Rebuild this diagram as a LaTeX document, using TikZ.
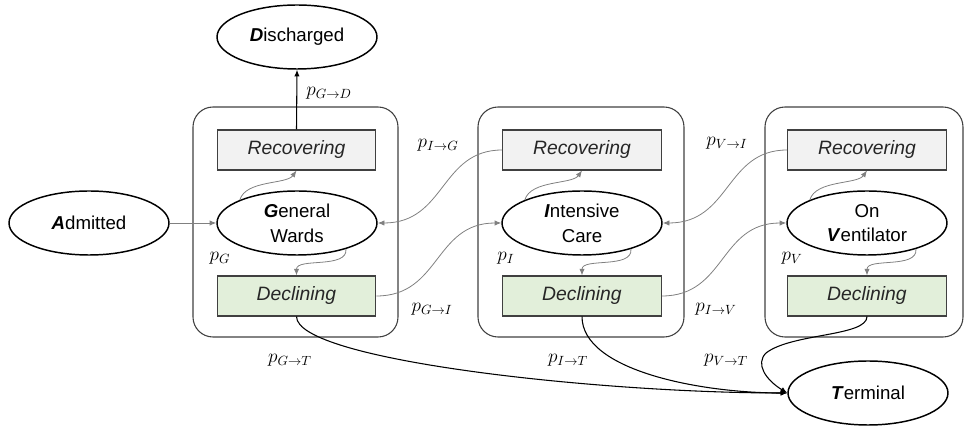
\documentclass[tikz,border=0pt]{standalone}
\usepackage{fontspec}
\setmainfont{Liberation Sans}
\usetikzlibrary{shapes.geometric,arrows.meta}
\definecolor{recfill}{HTML}{F2F2F2}
\definecolor{decfill}{HTML}{E2EFDA}
\definecolor{edge}{HTML}{404040}
\definecolor{thin}{HTML}{808080}
\begin{document}
\begin{tikzpicture}[x=0.75pt,y=-0.75pt,
  state/.style={ellipse,draw=black,line width=1.1pt,minimum width=120pt,minimum height=48pt,inner sep=0pt,align=center,font=\fontsize{14}{18.5}\selectfont},
  recbox/.style={rectangle,draw=edge,line width=0.8pt,fill=recfill,minimum width=119pt,minimum height=30pt,inner sep=0pt,font=\fontsize{14.5}{17}\selectfont\itshape,text=black!85},
  decbox/.style={recbox,fill=decfill},
  ward/.style={rectangle,draw=edge,line width=0.8pt,rounded corners=15pt,minimum height=172.5pt,inner sep=0pt},
  prob/.style={inner sep=0pt,font=\fontsize{14}{16}\selectfont},
  tip/.style={-{Latex[length=5pt,width=4pt]}},
  minor/.style={tip,draw=thin,line width=0.6pt},
  major/.style={tip,draw=black,line width=0.8pt}]
\useasboundingbox (0,0) rectangle (965,427);
% containers
\node[ward,minimum width=153.75pt] (W1) at (295.5,222) {};
\node[ward,minimum width=154.5pt] (W2) at (581,222) {};
\node[ward,minimum width=148.5pt] (W3) at (864,222) {};
% states
\node[state] (D) at (297,37) {\textbf{\textit{D}}ischarged};
\node[state] (A) at (89,223) {\textbf{\textit{A}}dmitted};
\node[state] (G) at (297,223) {\textbf{\textit{G}}eneral\\Wards};
\node[state] (I) at (582,223) {\textbf{\textit{I}}ntensive\\Care};
\node[state] (V) at (867,223) {On\\\textbf{\textit{V}}entilator};
\node[state] (T) at (868,393) {\textbf{\textit{T}}erminal};
% sub-states
\node[recbox] (R1) at (296.5,150) {Recovering};
\node[decbox] (E1) at (296.5,296) {Declining};
\node[recbox] (R2) at (582,150) {Recovering};
\node[decbox] (E2) at (582,296) {Declining};
\node[recbox] (R3) at (867,150) {Recovering};
\node[decbox] (E3) at (867,296) {Declining};
% probability labels
\node[prob] (lGD) at (329,93) {$p_{G\to D}$};
\node[prob] (lIG) at (438,145) {$p_{I\to G}$};
\node[prob] (lVI) at (727,143) {$p_{V\to I}$};
\node[prob] (lG) at (220,258) {$p_{G}$};
\node[prob] (lI) at (506,258) {$p_{I}$};
\node[prob] (lV) at (792,258) {$p_{V}$};
\node[prob] (lGI) at (432,309) {$p_{G\to I}$};
\node[prob] (lIV) at (716,309) {$p_{I\to V}$};
\node[prob] (lGT) at (290,360) {$p_{G\to T}$};
\node[prob] (lIT) at (568,360) {$p_{I\to T}$};
\node[prob] (lVT) at (726,360) {$p_{V\to T}$};
% connectors
\draw[major] (R1.north) -- (D.south);
\draw[minor] (A.east) -- (G.west);
% inner arrows
\foreach \s/\r/\e in {G/R1/E1,I/R2/E2,V/R3/E3}{
  \draw[minor] (\s.158) .. controls +(6,-20) and +(-10,14) .. (\r.south);
  \draw[minor] (\s.-28) .. controls +(2,20) and +(0,-18) .. (\e.north);
}
% cross-column transitions
\draw[minor] (E1.east) .. controls +(64,0) and +(-67,0) .. (I.west);
\draw[minor] (R2.west) .. controls +(-62,0) and +(68,0) .. (G.east);
\draw[minor] (E2.east) .. controls +(64,0) and +(-67,0) .. (V.west);
\draw[minor] (R3.west) .. controls +(-62,0) and +(68,0) .. (I.east);
% to terminal
\draw[major] (E1.south) .. controls +(0,44) and +(-187,0) .. (T.west);
\draw[major] (E2.south) .. controls +(0,54) and +(-87,0) .. (T.west);
\coordinate (loop) at (766,353);
\draw[major] (E3.south) .. controls +(0,20) and (792,333) .. (loop) .. controls (755,364) and (766,380) .. (T.west);
\end{tikzpicture}
\end{document}
